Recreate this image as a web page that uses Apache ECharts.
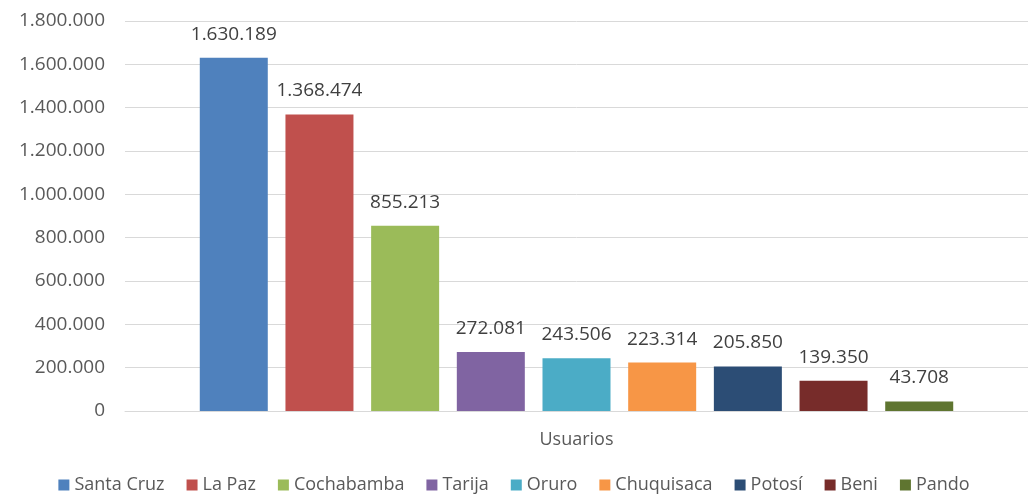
<!DOCTYPE html>
<html>
<head>
<meta charset="utf-8">
<script src="https://cdn.jsdelivr.net/npm/echarts@6/dist/echarts.min.js"></script>
<style>
  html, body { margin: 0; padding: 0; background: #fff; }
  #chart { width: 1028px; height: 499px; }
</style>
</head>
<body>
<div id="chart"></div>
<script>
// Usuarios por departamento
const category = ['Usuarios'];
const departamentos = ['Santa Cruz', 'La Paz', 'Cochabamba', 'Tarija', 'Oruro', 'Chuquisaca', 'Potosí', 'Beni', 'Pando'];
const usuarios = [1630189, 1368474, 855213, 272081, 243506, 223314, 205850, 139350, 43708];
const colores = ['#4F81BD', '#C0504D', '#9BBB59', '#8064A2', '#4BACC6', '#F79646', '#2C4D75', '#772C2A', '#5F7530'];

const fontFamily = '"Open Sans", "Liberation Sans", sans-serif';
const fmt = v => String(Math.round(v)).replace(/\B(?=(\d{3})+(?!\d))/g, '.');

const series = departamentos.map((name, i) => ({
  name: name,
  type: 'bar',
  data: [usuarios[i]],
  barWidth: 68,
  barGap: '26%',
  itemStyle: { color: colores[i] },
  label: {
    show: true,
    position: 'top',
    distance: 14,
    color: '#404040',
    fontFamily: fontFamily,
    fontSize: 19,
    formatter: p => fmt(p.value)
  }
}));

const chart = echarts.init(document.getElementById('chart'), null, { renderer: 'canvas' });
chart.setOption({
  animation: false,
  grid: { left: 125, right: 0, top: 21, bottom: 88, containLabel: false },
  legend: {
    top: 474,
    left: 'center',
    padding: [2, 5],
    itemWidth: 11,
    itemHeight: 11,
    itemGap: 22,
    icon: 'rect',
    textStyle: { color: '#595959', fontFamily: fontFamily, fontSize: 18 },
    data: departamentos
  },
  xAxis: {
    type: 'category',
    data: category,
    axisLine: { show: true, lineStyle: { color: '#D9D9D9', width: 1 } },
    axisTick: { show: false },
    axisLabel: { color: '#595959', fontFamily: fontFamily, fontSize: 18, margin: 20 }
  },
  yAxis: {
    type: 'value',
    min: 0,
    max: 1800000,
    interval: 200000,
    axisLine: { show: false },
    axisTick: { show: false },
    splitLine: { lineStyle: { color: '#D9D9D9', width: 1 } },
    axisLabel: { color: '#595959', fontFamily: fontFamily, fontSize: 19, margin: 20, formatter: fmt }
  },
  series: series
});
</script>
</body>
</html>
